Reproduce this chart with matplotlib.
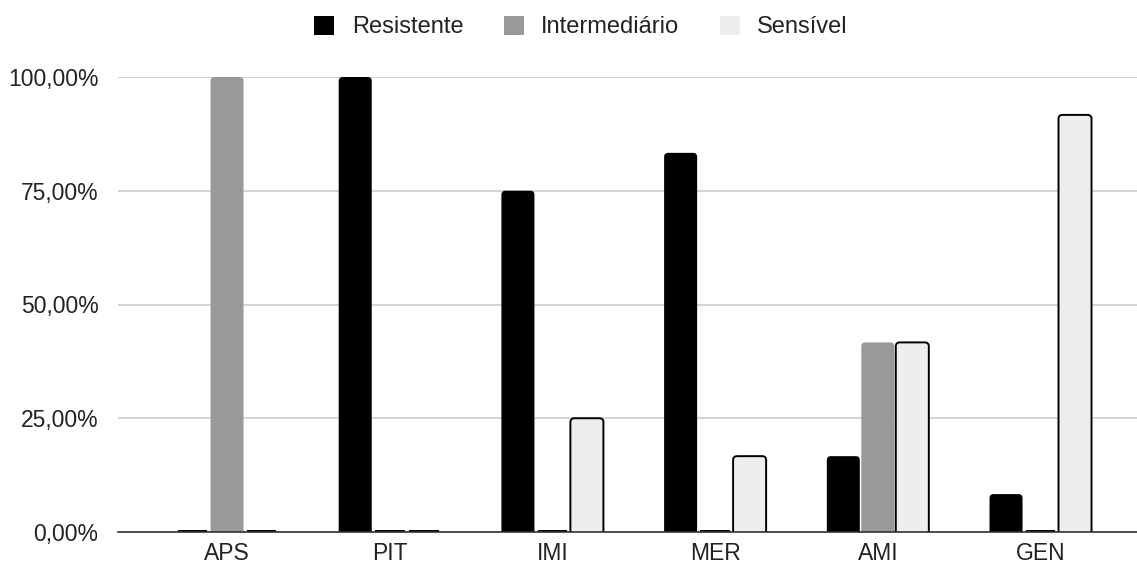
import numpy as np
import matplotlib
matplotlib.use("Agg")
import matplotlib.pyplot as plt
from matplotlib.patches import Patch, FancyBboxPatch

plt.rcParams['font.family'] = ['Liberation Sans', 'DejaVu Sans']

categories = ['APS', 'PIT', 'IMI', 'MER', 'AMI', 'GEN']
resistente = [0, 100, 75.0, 83.33, 16.67, 8.33]
intermediario = [100, 0, 0, 0, 41.67, 0]
sensivel = [0, 0, 25.0, 16.67, 41.67, 91.67]

series = [
    ('Resistente', resistente, '#000000', 'none'),
    ('Intermediário', intermediario, '#999999', 'none'),
    ('Sensível', sensivel, '#eeeeee', '#000000'),
]

W, H = 1137, 565
fig = plt.figure(figsize=(W / 100, H / 100), dpi=100)
ax = fig.add_axes([118 / W, 1 - 532 / H, 1 - 118 / W, (532 - 77) / H])

xmin, xmax = -0.67, 5.593
ymin, ymax = 0, 100
ax.set_xlim(xmin, xmax)
ax.set_ylim(ymin, ymax)

# aspect between data units in y and x (for rounded corners)
px_x = ax.get_position().width * W / (xmax - xmin)
px_y = ax.get_position().height * H / (ymax - ymin)
aspect = px_x / px_y
rsize = 4 / px_x

x = np.arange(len(categories))
width = 0.203
offsets = [-0.212, 0, 0.212]

for (name, vals, color, edge), off in zip(series, offsets):
    for xi, v in zip(x, vals):
        if v == 0:
            # empty values shown as a thin black line on the baseline
            ax.bar(xi + off, 0.5, width=width * 0.9, color='#000000',
                   linewidth=0, zorder=3)
            continue
        rect = ax.bar(xi + off, v, width=width, color=color)[0]
        rect.set_visible(False)
        lw = 1.4 if edge != 'none' else 0
        ext = 2 * rsize * aspect  # push rounded bottom below the axis
        box = FancyBboxPatch((rect.get_x(), -ext), rect.get_width(), v + ext,
                             boxstyle=f"round,pad=0,rounding_size={rsize}",
                             mutation_aspect=aspect, facecolor=color,
                             edgecolor=edge, linewidth=lw, zorder=3)
        ax.add_patch(box)

ax.set_yticks([0, 25, 50, 75, 100])
ax.set_yticklabels(['0,00%', '25,00%', '50,00%', '75,00%', '100,00%'])
ax.set_xticks(x)
ax.set_xticklabels(categories)
ax.yaxis.grid(True, color='#cccccc', linewidth=1.2, zorder=0)
ax.set_axisbelow(True)
for s in ['top', 'right', 'left']:
    ax.spines[s].set_visible(False)
ax.spines['bottom'].set_color('#333333')
ax.spines['bottom'].set_linewidth(1.2)
ax.spines['bottom'].set_zorder(4)
ax.tick_params(axis='both', length=0, labelsize=16.5, colors='#222222')
ax.tick_params(axis='y', pad=14)
ax.tick_params(axis='x', pad=7)

handles = [Patch(facecolor=c, edgecolor='none', label=n) for n, _, c, _ in series]
fig.legend(handles=handles, loc='center', bbox_to_anchor=(581 / W, 1 - 27 / H),
           ncol=3, frameon=False, fontsize=17, handlelength=0.85, handleheight=0.85,
           columnspacing=1.7, handletextpad=0.75, labelcolor='#222222')

fig.savefig('out.png', dpi=100)
